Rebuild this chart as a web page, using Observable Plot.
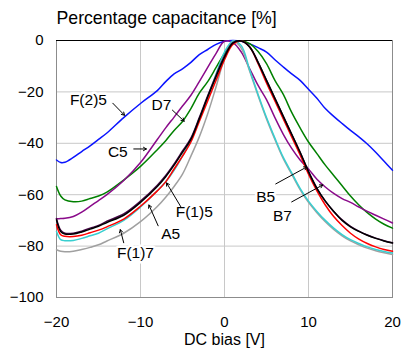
<!DOCTYPE html>
<html>
<head>
<meta charset="utf-8">
<script src="https://cdn.jsdelivr.net/npm/d3@7"></script>
<script src="https://cdn.jsdelivr.net/npm/@observablehq/plot@0.6"></script>
<style>
  html, body { margin: 0; padding: 0; background: #fff; }
  #chart { width: 401px; height: 352px; }
</style>
</head>
<body>
<div id="chart"></div>
<script>
// DC bias grid (V)
const bias = [-20, -19.5, -19, -18, -17, -16, -15, -14, -12, -10, -8, -7, -6, -5, -4, -3, -2, -1, 0, 1, 2, 3, 4, 5, 6, 7, 8, 9, 10, 11, 12, 13, 14, 15, 16, 17, 18, 19, 20];

// Percentage capacitance (%) per series
const capF25 = [-46.5, -47.5, -47.4, -45.5, -43.2, -41, -38.5, -36, -30, -24.5, -19.5, -16, -13, -11, -8.5, -5.5, -3.5, -1.5, -0.3, 0, -0.3, -1.3, -2.8, -4.5, -7.5, -10.3, -13, -15.5, -19, -22.5, -26.5, -29.5, -32.3, -35, -37.5, -40.3, -43.5, -47, -50.5];
const capD7 = [-69.4, -69.3, -69.2, -68.5, -66.8, -64.5, -62.3, -60, -54.5, -47.5, -38.5, -34, -29.8, -25.5, -21.3, -16, -10.5, -5, -0.3, -0.8, -4.5, -11, -17.5, -23, -30, -36.5, -42, -46.5, -50, -54, -57, -59.5, -61.5, -63, -64.8, -66.5, -68, -69.5, -71];
const capC5 = [-56.8, -60.5, -62, -62.7, -62.5, -61.5, -60.5, -59, -54.3, -49, -42.5, -39, -35, -31.5, -26.5, -20.5, -16, -10.5, -5, -1, -0.2, -1.2, -4.3, -9, -15.5, -21, -28, -34, -39.5, -44, -48.5, -52.5, -56.5, -60.5, -64, -67, -69.5, -71.5, -73];
const capB7 = [-69.8, -74.3, -75.3, -75.3, -74.5, -73.4, -72.3, -70.8, -68, -63, -56.8, -53, -48.5, -43.5, -38.5, -30.5, -22, -14, -6.5, -1, -0.2, -2.5, -8.5, -15.5, -22.5, -29.5, -36.5, -43.5, -51, -57.5, -62.5, -66.5, -70, -72.5, -74.3, -75.8, -77, -78, -78.8];
const capB5 = [-69.3, -73.8, -75, -75, -74.2, -73, -72, -70.3, -67.5, -62.5, -56.3, -52.5, -48, -43, -38, -30, -21.5, -13.5, -6, -0.8, -0.2, -2.5, -8.5, -15.5, -22.5, -29.5, -36.5, -43.5, -51, -57.5, -62.5, -66.5, -69.8, -72.3, -74.2, -75.7, -76.9, -77.9, -78.7];
const capA5 = [-71.7, -75.6, -76.2, -76.3, -75.8, -74.8, -73.8, -72.5, -69.5, -64.5, -58.5, -55, -50, -45, -39.5, -31.5, -23.5, -15.5, -7.5, -1.5, -0.2, -2.5, -9, -16.5, -23.5, -30.5, -37.5, -44.5, -52, -58.5, -64, -68.5, -72, -75, -77.3, -79, -80.3, -81.3, -82];
const capF15 = [-74.3, -77.5, -77.9, -77.8, -77, -76, -75, -73.3, -70, -64.8, -58.5, -55, -50.5, -45, -38.5, -30.5, -22, -13, -4.5, -0.2, -2, -11.5, -21, -30, -38, -45.5, -51.5, -57.5, -62.5, -66.5, -70, -73, -75.5, -77.5, -79, -80.3, -81.3, -82.1, -82.7];
const capF17 = [-81.4, -82, -82.2, -82, -81.3, -80.5, -79.5, -78, -75, -70.5, -64.6, -61, -56.8, -52, -45, -37.5, -28.5, -18, -7, -0.2, -3, -12, -21.5, -30.5, -38.5, -46, -52, -58, -63, -67, -70.5, -73.5, -76, -78, -79.5, -80.8, -81.8, -82.6, -83.3];

// Series names, drawing order and colours
const seriesNames = ["F(2)5", "C5", "D7", "F(1)7", "F(1)5", "A5", "B5", "B7"];
const seriesValues = [capF25, capC5, capD7, capF17, capF15, capA5, capB5, capB7];
const seriesColors = ["#0a14ff", "#008000", "#8a0a8a", "#a0a0a0", "#38cfd0", "#ff0000", "#4a0a4a", "#000000"];

// Tick values
const xTicks = [-20, -10, 0, 10, 20];
const yTicks = [-100, -80, -60, -40, -20, 0];

// Annotation labels (text at tx,ty; arrow from x1,y1 to x2,y2) in data units
const annotLabels = ["F(2)5", "D7", "C5", "F(1)5", "A5", "F(1)7", "B5", "B7"];
const annotTx = [-16.2, -7.5, -12.7, -3.6, -6.4, -10.6, 4.9, 6.9];
const annotTy = [-23.3, -25.2, -43.4, -66.7, -75.2, -82.6, -60.9, -68.2];
const annotX1 = [-13.3, -6.2, -10.8, -5.2, -7.9, -12.0, 6.1, 8.0];
const annotY1 = [-24.4, -27.1, -42.2, -64.7, -72.1, -78.7, -55.8, -62.8];
const annotX2 = [-11.9, -4.8, -9.3, -6.9, -9.0, -12.4, 9.8, 11.7];
const annotY2 = [-29.1, -31.4, -42.2, -55.4, -64.0, -73.6, -49.2, -56.2];

const rows = [];
seriesNames.forEach((name, i) => {
  bias.forEach((b, j) => rows.push({series: name, bias: b, cap: seriesValues[i][j]}));
});
const annots = annotLabels.map((t, i) => ({
  text: t, tx: annotTx[i], ty: annotTy[i],
  x1: annotX1[i], y1: annotY1[i], x2: annotX2[i], y2: annotY2[i]
}));

const chart = Plot.plot({
  width: 401,
  height: 352,
  marginLeft: 56,
  marginRight: 9,
  marginTop: 40,
  marginBottom: 55,
  style: {fontFamily: "'Liberation Sans', Arial, sans-serif", background: "#fff", color: "#000"},
  x: {domain: [-20, 20], ticks: xTicks},
  y: {domain: [-100, 0], ticks: yTicks},
  color: {domain: seriesNames, range: seriesColors},
  marks: [
    Plot.gridX(xTicks, {stroke: "#c8c8c8", strokeOpacity: 1, strokeWidth: 1}),
    Plot.gridY(yTicks, {stroke: "#c8c8c8", strokeOpacity: 1, strokeWidth: 1}),
    Plot.frame({stroke: "#8c8c8c", strokeWidth: 1}),
    Plot.ruleY([0], {stroke: "#000", strokeWidth: 1.2}),
    Plot.axisX(xTicks, {tickSize: 0, tickPadding: 19, fontSize: 15, label: null}),
    Plot.axisY(yTicks, {tickSize: 0, tickPadding: 13, fontSize: 15, label: null}),
    Plot.line(rows, {x: "bias", y: "cap", z: "series", stroke: "series", strokeWidth: 1.5, curve: "catmull-rom"}),
    Plot.text(annots, {x: "tx", y: "ty", text: "text", fontSize: 15.5, fill: "#000", stroke: "#fff", strokeWidth: 5}),
    Plot.arrow(annots, {x1: "x1", y1: "y1", x2: "x2", y2: "y2", stroke: "#000", strokeWidth: 1, headLength: 5}),
    Plot.text(["Percentage capacitance [%]"], {frameAnchor: "top-left", lineAnchor: "middle", dy: -22, dx: 0, textAnchor: "start", fontSize: 17.7, fill: "#000"}),
    Plot.text(["DC bias [V]"], {frameAnchor: "bottom", lineAnchor: "middle", dy: 42, fontSize: 16, fill: "#000"})
  ]
});
document.getElementById("chart").appendChild(chart);
</script>
</body>
</html>
